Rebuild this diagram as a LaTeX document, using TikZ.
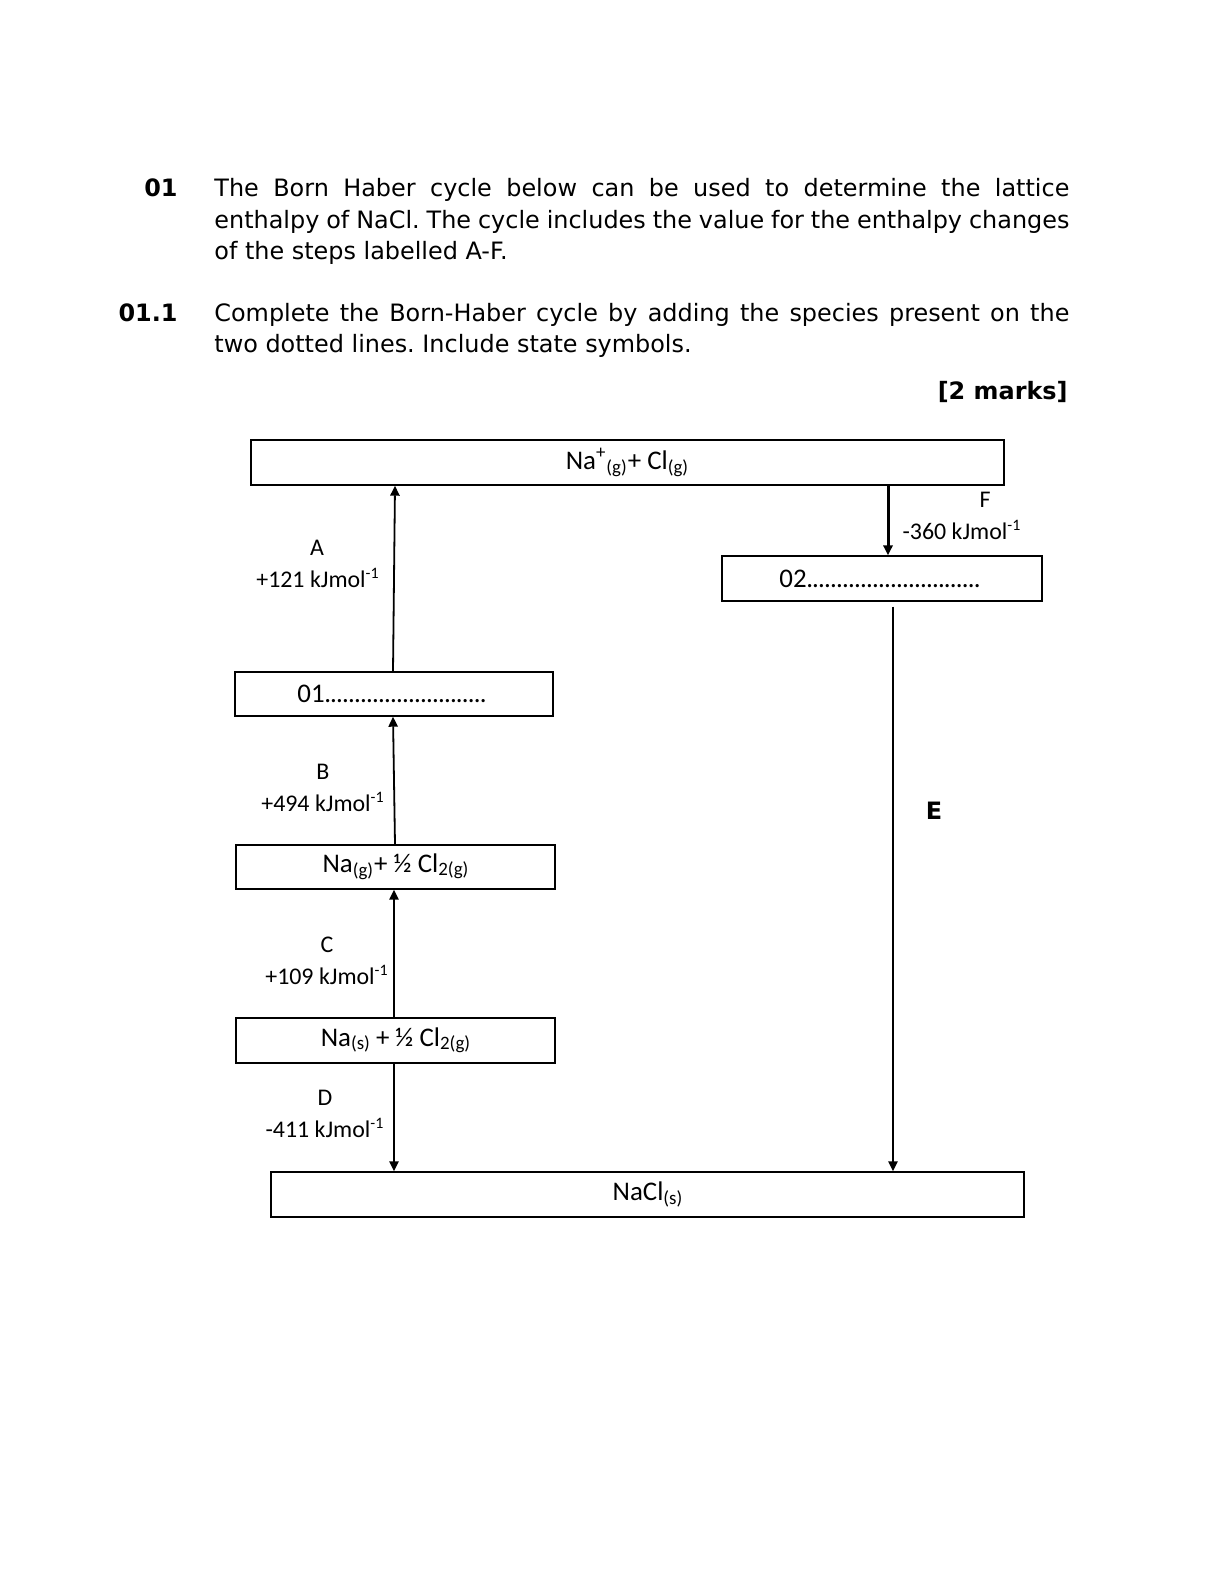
\documentclass[tikz,border=0pt]{standalone}
\usepackage{fontspec}
\setmainfont{DejaVu Sans}
\newfontfamily\calfont{Carlito}
\usetikzlibrary{arrows.meta}
\frenchspacing
\newcommand\dotrow[1]{\hbox to #1{\leaders\hbox to 3bp{\hss.\hss}\hfil}}
\newcommand\smsub[1]{\raisebox{-0.12em}{\fontsize{9.5}{9.5}\selectfont #1}}
\begin{document}
\begin{tikzpicture}[x=0.5bp,y=-0.5bp,
  lvl/.style={draw, line width=0.7bp, inner sep=0, font=\calfont\fontsize{13.5}{15}\selectfont},
  lab/.style={font=\calfont\fontsize{12}{14}\selectfont, inner sep=0},
  arr/.style={line width=0.9bp, -{Triangle[length=5bp,width=4.6bp]}},
  txt/.style={anchor=base west, inner sep=0, font=\fontsize{12}{15.5}\selectfont},
  qnum/.style={anchor=base east, inner sep=0, font=\bfseries\fontsize{12}{14}\selectfont},
]
\useasboundingbox[fill=white] (0,0) rectangle (1224,1584);

% header text
\node[qnum] (q1) at (178,196) {01};
\node[txt] (l1) at (214,196) {\makebox[427.5bp][s]{The Born Haber cycle below can be used to determine the lattice}};
\node[txt] (l2) at (214,228) {\makebox[427.5bp][s]{enthalpy of NaCl. The cycle includes the value for the enthalpy changes}};
\node[txt] (l3) at (214,259) {of the steps labelled A-F.};
\node[qnum] (q2) at (178,321) {01.1};
\node[txt] (l4) at (214,321) {\makebox[427.5bp][s]{Complete the Born-Haber cycle by adding the species present on the}};
\node[txt] (l5) at (214,352) {two dotted lines. Include state symbols.};
\node[qnum] (marks) at (1068,399) {[2 marks]};

% levels
\node[lvl, minimum width=376.5bp, minimum height=22.5bp] (top) at (627.5,462.5)
  {Na\textsuperscript{+}\textsubscript{(g)}+ Cl\textsubscript{(g)}};
\node[lvl, minimum width=160bp, minimum height=22.5bp] (o2) at (882,578.5)
  {02\dotrow{89bp}};
\node[lvl, minimum width=159bp, minimum height=22bp] (o1) at (394,694)
  {01\dotrow{83bp}};
\node[lvl, minimum width=159.5bp, minimum height=22bp] (nag) at (395.5,867)
  {Na\textsubscript{(g)}+ \textonehalf{} Cl\smsub{2(g)}};
\node[lvl, minimum width=159.5bp, minimum height=22.5bp] (nas) at (395.5,1040.5)
  {Na\smsub{(s)} + \textonehalf{} Cl\smsub{2(g)}};
\node[lvl, minimum width=376.5bp, minimum height=22.5bp] (nacl) at (647.5,1194.5)
  {NaCl\smsub{(s)}};

% x positions of arrows
\coordinate (xa1) at (393,0);
\coordinate (xa2) at (395,0);
\coordinate (xc) at (394,0);
\coordinate (xf) at (888,0);
\coordinate (xe) at (893,0);

% arrows
\draw[arr] (o1.north -| xa1) -- (top.south -| xa2);
\draw[arr] (nag.north -| xa2) -- (o1.south -| xa1);
\draw[arr] (nas.north -| xc) -- (nag.south -| xc);
\draw[arr] (nas.south -| xc) -- (nacl.north -| xc);
\draw[arr, line width=1.5bp] (top.south -| xf) -- (o2.north -| xf);
\draw[arr, shorten <=2.5bp] (o2.south -| xe) -- (nacl.north -| xe);

% step labels
\node[lab] (la) at (317,548) {A};
\node[lab] (va) at (318,578) {+121 kJmol\textsuperscript{-1}};
\node[lab] (lf) at (985,500) {F};
\node[lab] (vf) at (962,530) {-360 kJmol\textsuperscript{-1}};
\node[lab] (lb) at (323,772) {B};
\node[lab] (vb) at (323,802) {+494 kJmol\textsuperscript{-1}};
\node[lab] (lc) at (327,945) {C};
\node[lab] (vc) at (327,975) {+109 kJmol\textsuperscript{-1}};
\node[lab] (ld) at (325,1098) {D};
\node[lab] (vd) at (325,1128) {-411 kJmol\textsuperscript{-1}};
\node[font=\bfseries\fontsize{12}{14}\selectfont, inner sep=0] (le) at (934,811) {E};
\end{tikzpicture}
\end{document}
